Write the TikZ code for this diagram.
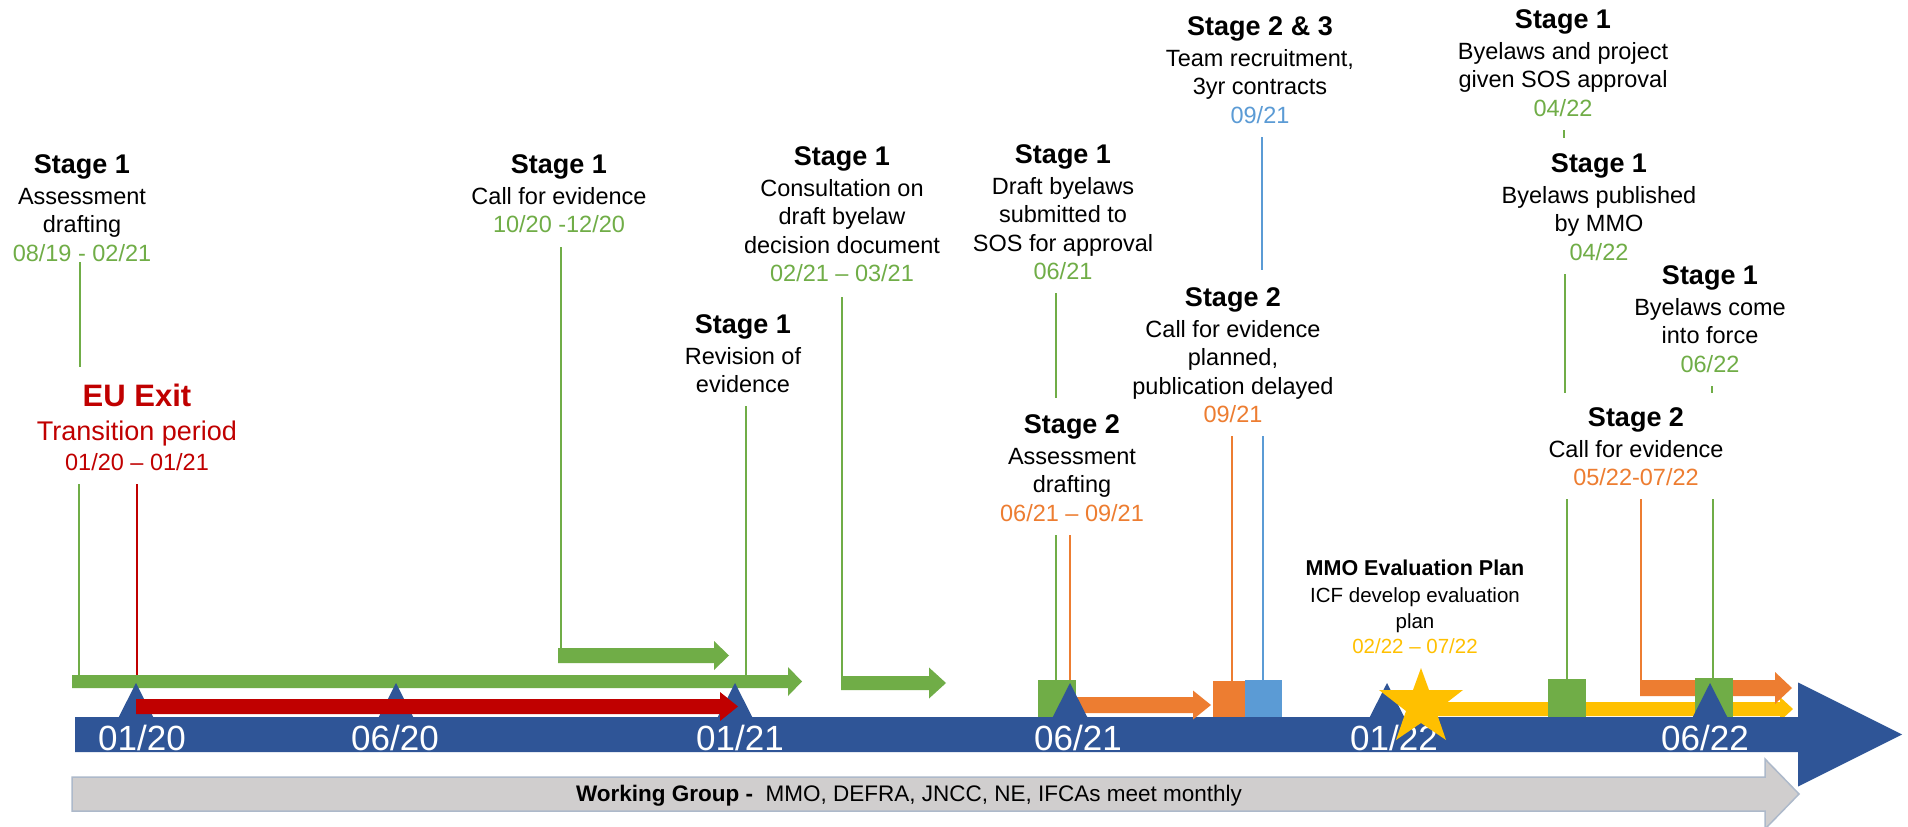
\documentclass[tikz,border=0pt]{standalone}
\usepackage{fontspec}
\setmainfont{Liberation Sans}
\definecolor{axisblue}{HTML}{2F5597}
\definecolor{sgreen}{HTML}{70AD47}
\definecolor{sred}{HTML}{C00000}
\definecolor{sorange}{HTML}{ED7D31}
\definecolor{sblue}{HTML}{5B9BD5}
\definecolor{sgold}{HTML}{FFC000}
\definecolor{wgfill}{HTML}{D0CECE}
\definecolor{wgedge}{HTML}{ADB9CA}

% block arrow: style, start x, centre y, half bar, half head, head start x, tip x
\newcommand\barrow[7]{\fill[#1] (#2,{#3-#4}) -- (#6,{#3-#4}) -- (#6,{#3-#5}) -- (#7,#3)
  -- (#6,{#3+#5}) -- (#6,{#3+#4}) -- (#2,{#3+#4}) -- cycle;}
% month marker on the time axis
\newcommand\axmark[1]{\fill[axisblue] ({#1-17.5},717.5) -- (#1,683) -- ({#1+17.5},717.5) -- cycle;}
% bold heading line of a label block
\newcommand\stagehead[1]{{\fontsize{27bp}{28.3bp}\selectfont\bfseries #1}\\[2.3bp]}

\begin{document}
\begin{tikzpicture}[x=1bp,y=-1bp,
  every node/.style={inner sep=0pt, outer sep=0pt},
  blk/.style={align=center, anchor=north, font=\fontsize{23.5bp}{28.3bp}\selectfont},
  axlbl/.style={anchor=base, text=white, font=\fontsize{35bp}{40bp}\selectfont},
  gline/.style={draw=sgreen, line width=2.5bp},
  oline/.style={draw=sorange, line width=2.5bp},
  bline/.style={draw=sblue, line width=2.5bp},
  rline/.style={draw=sred, line width=2.5bp}]

\fill[white] (0,0) rectangle (1908,827);
\useasboundingbox (0,0) rectangle (1908,827);

% ---------- label blocks ----------
\node[blk] (A) at (82,155) {\stagehead{Stage 1}Assessment\\drafting\\\textcolor{sgreen}{08/19 - 02/21}};
\node[blk] (B) at (559,155) {\stagehead{Stage 1}Call for evidence\\\textcolor{sgreen}{10/20 -12/20}};
\node[blk] (C) at (842,147) {\stagehead{Stage 1}Consultation on\\draft byelaw\\decision document\\\textcolor{sgreen}{02/21 – 03/21}};
\node[blk] (D) at (743,315) {\stagehead{Stage 1}Revision of\\evidence};
\node[blk] (E) at (1063,145) {\stagehead{Stage 1}Draft byelaws\\submitted to\\SOS for approval\\\textcolor{sgreen}{06/21}};
\node[blk] (F) at (1260,17) {\stagehead{Stage 2 \& 3}Team recruitment,\\3yr contracts\\\textcolor{sblue}{09/21}};
\node[blk] (G) at (1563,10) {\stagehead{Stage 1}Byelaws and project\\given SOS approval\\\textcolor{sgreen}{04/22}};
\node[blk] (H) at (1599,154) {\stagehead{Stage 1}Byelaws published\\by MMO\\\textcolor{sgreen}{04/22}};
\node[blk] (I) at (1710,266) {\stagehead{Stage 1}Byelaws come\\into force\\\textcolor{sgreen}{06/22}};
\node[blk] (J) at (1072,415) {\stagehead{Stage 2}Assessment\\drafting\\\textcolor{sorange}{06/21 – 09/21}};
\node[blk] (K) at (1233,288) {\stagehead{Stage 2}Call for evidence\\planned,\\publication delayed\\\textcolor{sorange}{09/21}};
\node[blk] (L) at (1636,408) {\stagehead{Stage 2}Call for evidence\\\textcolor{sorange}{05/22-07/22}};
\node[blk, font=\fontsize{20.5bp}{26.5bp}\selectfont] (M) at (1415,560)
  {{\fontsize{21.5bp}{26.5bp}\selectfont\bfseries MMO Evaluation Plan}\\ICF develop evaluation\\plan\\[-2bp]\textcolor{sgold}{02/22 – 07/22}};
\node[blk, text=sred, font=\fontsize{27bp}{30bp}\selectfont] (N) at (137,384)
  {{\fontsize{31bp}{30bp}\selectfont\bfseries EU Exit}\\[4bp]Transition period\\{\fontsize{23.5bp}{30bp}\selectfont 01/20 – 01/21}};

% ---------- connector end points ----------
\coordinate (a1) at (80,262);   \coordinate (a2) at (80,367);
\coordinate (a3) at (79,484);   \coordinate (a4) at (79,675);
\coordinate (n1) at (137,484);  \coordinate (n2) at (137,699);
\coordinate (b1) at (561,247);  \coordinate (b2) at (561,648);
\coordinate (c1) at (842,297);  \coordinate (c2) at (842,676);
\coordinate (d1) at (746,406);  \coordinate (d2) at (746,675);
\coordinate (e1) at (1056,293); \coordinate (e2) at (1056,398);
\coordinate (e3) at (1056,535); \coordinate (e4) at (1056,680);
\coordinate (j1) at (1070,535); \coordinate (j2) at (1070,697);
\coordinate (f1) at (1262,137); \coordinate (f2) at (1262,270);
\coordinate (f3) at (1263,436); \coordinate (f4) at (1263,680);
\coordinate (k1) at (1232,436); \coordinate (k2) at (1232,681);
\coordinate (g1) at (1564,130); \coordinate (g2) at (1564,138);
\coordinate (h1) at (1565,274); \coordinate (h2) at (1565,393);
\coordinate (h3) at (1567,499); \coordinate (h4) at (1567,679);
\coordinate (i1) at (1712,386); \coordinate (i2) at (1712,393);
\coordinate (i3) at (1713,499); \coordinate (i4) at (1713,678);
\coordinate (l1) at (1641,499); \coordinate (l2) at (1641,688);

\draw[gline] (a1) -- (a2);  \draw[gline] (a3) -- (a4);
\draw[rline] (n1) -- (n2);
\draw[gline] (b1) -- (b2);
\draw[gline] (c1) -- (c2);
\draw[gline] (d1) -- (d2);
\draw[gline] (e1) -- (e2);  \draw[gline] (e3) -- (e4);
\draw[oline] (j1) -- (j2);
\draw[bline] (f1) -- (f2);  \draw[bline] (f3) -- (f4);
\draw[oline] (k1) -- (k2);
\draw[gline] (g1) -- (g2);
\draw[gline] (h1) -- (h2);  \draw[gline] (h3) -- (h4);
\draw[gline] (i1) -- (i2);  \draw[gline] (i3) -- (i4);
\draw[oline] (l1) -- (l2);

% ---------- working group band ----------
\barrow{wgfill, draw=wgedge, line width=1.5bp}{72}{794}{17}{35}{1765}{1799}
\node[anchor=base west, font=\fontsize{22.5bp}{26bp}\selectfont] (wg) at (576,801)
  {\textbf{Working Group -}\ \ MMO, DEFRA, JNCC, NE, IFCAs meet monthly};

% ---------- activity arrows ----------
\barrow{sgold}{1421}{709}{7}{12}{1780}{1793}
\barrow{axisblue}{75}{734.5}{17.5}{52}{1798}{1902}
\barrow{sgreen}{72}{681.5}{6.5}{14.5}{788}{802}
\barrow{sgreen}{558}{655.5}{7.5}{14.5}{714}{729}
\barrow{sgreen}{841}{683}{7}{15.5}{929}{946}
\barrow{sorange}{1069}{705}{8}{14.5}{1193}{1211}
\barrow{sorange}{1640}{688}{8}{16}{1775}{1792}

% ---------- milestone squares ----------
\fill[sgreen] (1038,680) rectangle (1076,717);
\fill[sorange] (1213,681) rectangle (1251,717);
\fill[sblue] (1245,680) rectangle (1282,717);
\fill[sgreen] (1548,679) rectangle (1586,717);
\fill[sgreen] (1695,678) rectangle (1733,717);

% ---------- axis markers ----------
\axmark{136} \axmark{396} \axmark{735} \axmark{1070} \axmark{1387} \axmark{1710}

\barrow{sred}{136}{706.5}{7.5}{14.5}{720}{738}

% ---------- axis labels ----------
\node[axlbl] (t1) at (142,750) {01/20};
\node[axlbl] (t2) at (395,750) {06/20};
\node[axlbl] (t3) at (740,750) {01/21};
\node[axlbl] (t4) at (1078,750) {06/21};
\node[axlbl] (t5) at (1394,750) {01/22};
\node[axlbl] (t6) at (1705,750) {06/22};

% ---------- evaluation star ----------
\fill[sgold] (1421,668) -- (1429,690) -- (1463,690) -- (1436,711) -- (1446,740)
  -- (1421,723) -- (1396,740) -- (1406,711) -- (1379,690) -- (1413,690) -- cycle;
\end{tikzpicture}
\end{document}
